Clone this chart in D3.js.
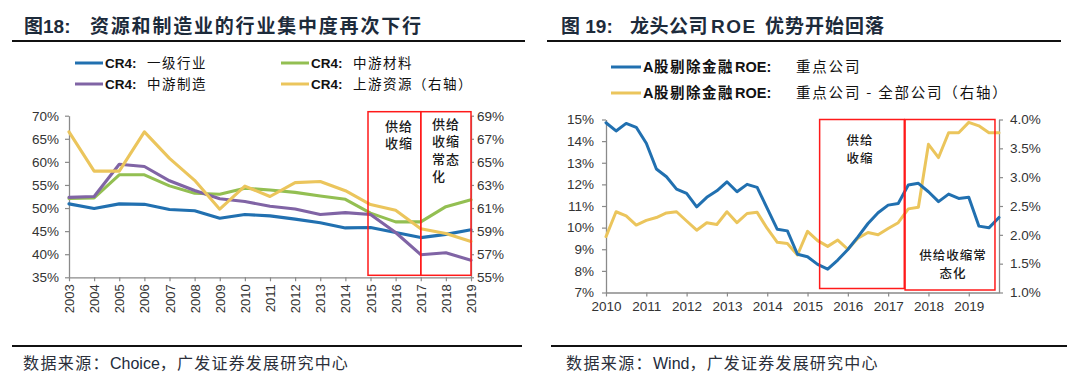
<!DOCTYPE html>
<html><head><meta charset="utf-8">
<script src="https://cdn.jsdelivr.net/npm/d3@7"></script>
<style>
body{margin:0;background:#fff}
svg{display:block}
text{font-family:"Liberation Sans",Arial,"Noto Sans CJK SC",sans-serif}
.cjk{font-family:"Noto Sans CJK SC","Liberation Sans",sans-serif}
</style>
</head><body>
<svg id="c" width="1080" height="383"></svg>
<script>
// ---------- Data: left chart (Figure 18) ----------
const years = [2003,2004,2005,2006,2007,2008,2009,2010,2011,2012,2013,2014,2015,2016,2017,2018,2019];
const cr4Primary       = [50.9,49.9,50.9,50.8,49.7,49.4,47.8,48.6,48.3,47.6,46.8,45.7,45.8,44.7,43.6,44.3,45.3];
const cr4Materials     = [52.1,52.2,57.2,57.2,54.8,53.2,53.0,54.3,53.9,53.4,52.6,51.9,48.9,47.0,47.0,50.3,51.8];
const cr4Manufacturing = [52.3,52.5,59.5,59.0,55.9,53.8,52.0,51.4,50.4,49.8,48.6,49.0,48.6,44.7,39.9,40.3,38.7];
const cr4Upstream      = [67.6,64.2,64.2,67.6,65.3,63.4,60.9,62.9,62.0,63.2,63.3,62.5,61.3,60.8,59.2,58.8,58.1];
const leftTicksL = [35,40,45,50,55,60,65,70];
const leftTicksR = [55,57,59,61,63,65,67,69];
const leftPeriods = [[2015,2017],[2017,2019]];
const leftLegend = [
  ["CR4:","一级行业"],["CR4:","中游材料"],["CR4:","中游制造"],["CR4:","上游资源（右轴）"]
];

// ---------- Data: right chart (Figure 19), quarterly 2010Q1..2019Q4 ----------
const quarters = d3.range(40).map(i => 2010 + i/4);
const roeTop  = [14.85,14.47,14.82,14.64,13.9,12.71,12.35,11.78,11.58,10.96,11.4,11.7,12.12,11.66,12.0,11.86,10.89,9.92,9.85,8.77,
                 8.65,8.30,8.08,8.50,8.99,9.57,10.19,10.69,11.04,11.12,11.97,12.05,11.66,11.2,11.55,11.35,11.4,10.07,9.99,10.47];
const roeDiff = [1.97,2.40,2.33,2.17,2.25,2.30,2.38,2.40,2.24,2.08,2.21,2.18,2.40,2.21,2.37,2.39,2.11,1.87,1.85,1.65,
                 2.06,1.90,1.80,1.91,1.75,1.94,2.04,2.00,2.11,2.21,2.45,2.48,3.57,3.34,3.77,3.77,3.95,3.89,3.77,3.77];
const rightYears = [2010,2011,2012,2013,2014,2015,2016,2017,2018,2019];
const rightTicksL = [7,8,9,10,11,12,13,14,15];
const rightTicksR = [1.0,1.5,2.0,2.5,3.0,3.5,4.0];
const rightPeriods = [[2015.3,2017.4],[2017.42,2019.65]];

const C = {blue:"#2170b0", green:"#93bf52", purple:"#8064a5", gold:"#ebc55c", red:"#ff1a1a", axis:"#8a8a8a", tick:"#333", title:"#1d2b3b"};

const svg = d3.select("#c");
svg.append("rect").attr("width",1080).attr("height",383).attr("fill","#fff");

function styleAxis(g){
  g.select(".domain").attr("stroke",C.axis).attr("stroke-width",1.3);
  g.selectAll(".tick line").attr("stroke",C.axis).attr("stroke-width",1.2);
  g.selectAll(".tick text").attr("fill",C.tick).attr("font-size","13.5px")
    .attr("font-family","'Liberation Sans',Arial,sans-serif");
}

// ---------- Titles, rules, footers ----------
function header(x0, x1, titleParts){
  const t = svg.append("text").attr("y",33).attr("fill",C.title).attr("font-weight","bold").attr("font-size","19px");
  titleParts.forEach(p=>{
    t.append("tspan").attr("x",p.x).attr("class",p.cjk?"cjk":null)
     .attr("letter-spacing",p.ls||0).text(p.t);
  });
  svg.append("line").attr("x1",x0).attr("x2",x1).attr("y1",41).attr("y2",41).attr("stroke","#111").attr("stroke-width",2);
}
header(12,525,[{x:24,t:"图18:"},{x:90,t:"资源和制造业的行业集中度再次下行",cjk:true,ls:"1.8px"}]);
header(547,1061,[{x:561,t:"图 19:"},{x:630,t:"龙头公司",cjk:true,ls:"0.5px"},{x:711,t:"ROE",ls:"1.5px"},{x:765,t:"优势开始回落",cjk:true,ls:"1px"}]);

function footer(x0,x1,tx,src){
  svg.append("line").attr("x1",x0).attr("x2",x1).attr("y1",346).attr("y2",346).attr("stroke","#111").attr("stroke-width",2);
  const t = svg.append("text").attr("x",tx).attr("y",369).attr("fill","#2b2f3a").attr("font-size","16px");
  t.append("tspan").attr("class","cjk").attr("letter-spacing","1.4px").text("数据来源：");
  t.append("tspan").attr("fill","#1d2b3b").text(src);
  t.append("tspan").attr("class","cjk").attr("letter-spacing","1.2px").text("，广发证券发展研究中心");
}
footer(12,522,23,"Choice");
footer(551,1067,566,"Wind");

// ---------- Left chart ----------
const xL = d3.scalePoint().domain(years).range([69,471]);
const yLL = d3.scaleLinear().domain([35,70]).range([277.3,115.7]);
const yLR = d3.scaleLinear().domain([55,69]).range([277.3,115.7]);

svg.append("g").attr("transform","translate(69,0)")
  .call(d3.axisLeft(yLL).tickValues(leftTicksL).tickSize(4).tickSizeOuter(0).tickPadding(6).tickFormat(d=>d+"%"))
  .call(styleAxis);
svg.append("g").attr("transform","translate(471,0)")
  .call(d3.axisRight(yLR).tickValues(leftTicksR).tickSize(3).tickSizeOuter(0).tickPadding(3).tickFormat(d=>d+"%"))
  .call(styleAxis);
const gxL = svg.append("g").attr("transform","translate(0,277.3)")
  .call(d3.axisBottom(xL).tickSize(4).tickSizeOuter(0))
  .call(styleAxis);
gxL.selectAll(".tick text").attr("transform","rotate(-90)").attr("text-anchor","end")
  .attr("x",-7).attr("y",0).attr("dy","0.35em").attr("font-size","13px");

function lineL(vals, scale, color){
  svg.append("path").datum(vals)
    .attr("d", d3.line().x((d,i)=>xL(years[i])).y(d=>scale(d)))
    .attr("fill","none").attr("stroke",color).attr("stroke-width",3.1)
    .attr("stroke-linejoin","round").attr("stroke-linecap","round");
}
lineL(cr4Primary, yLL, C.blue);
lineL(cr4Materials, yLL, C.green);
lineL(cr4Manufacturing, yLL, C.purple);
lineL(cr4Upstream, yLR, C.gold);

leftPeriods.forEach((p,i)=>{
  const x0 = xL(p[0]) - (i===0?2.5:0), x1 = xL(p[1]);
  svg.append("rect").attr("x",x0).attr("y",yLL(70)-4).attr("width",x1-x0).attr("height",yLL(35)-2-(yLL(70)-4))
    .attr("fill","none").attr("stroke",C.red).attr("stroke-width",1.5);
});
function multiText(lines, x, y0, lh, anchor, fs){
  lines.forEach((s,i)=>{
    svg.append("text").attr("class","cjk").attr("fill","#1a1a1a").attr("font-size",(fs||13)+"px")
      .attr("font-weight",500).attr("text-anchor",anchor).attr("letter-spacing","1px")
      .attr("x",x).attr("y",y0+i*lh).text(s);
  });
}
multiText(["供给","收缩"], 385, 131, 17.3, "start");
multiText(["供给","收缩","常态","化"], 432, 129, 17.3, "start");

// Left legend
const legPos = [[75,63],[281,63],[75,84],[281,84]];
const legCol = [C.blue,C.green,C.purple,C.gold];
leftLegend.forEach((l,i)=>{
  const [lx,ly] = legPos[i];
  svg.append("line").attr("x1",lx).attr("x2",lx+28).attr("y1",ly).attr("y2",ly).attr("stroke",legCol[i]).attr("stroke-width",3);
  const t = svg.append("text").attr("y",ly+5).attr("fill","#111").attr("font-size","13.5px");
  t.append("tspan").attr("x",lx+30).attr("font-weight","bold").text(l[0]);
  t.append("tspan").attr("x",lx+72).attr("class","cjk").attr("letter-spacing","1.5px").text(l[1]);
});

// ---------- Right chart ----------
const xR = d3.scaleLinear().domain([2010,2019.75]).range([606,999]);
const yRL = d3.scaleLinear().domain([7,15]).range([292.5,119.5]);
const yRR = d3.scaleLinear().domain([1,4]).range([292.5,119.5]);

svg.append("g").attr("transform","translate(606,0)")
  .call(d3.axisLeft(yRL).tickValues(rightTicksL).tickSize(4).tickSizeOuter(0).tickPadding(8).tickFormat(d=>d+"%"))
  .call(styleAxis);
svg.append("g").attr("transform","translate(999,0)")
  .call(d3.axisRight(yRR).tickValues(rightTicksR).tickSize(4).tickSizeOuter(0).tickPadding(7).tickFormat(d=>d3.format(".1f")(d)+"%"))
  .call(styleAxis);
svg.append("g").attr("transform","translate(0,292.5)")
  .call(d3.axisBottom(xR).tickValues(rightYears).tickSize(4).tickSizeOuter(0).tickPadding(5).tickFormat(d3.format("d")))
  .call(styleAxis);

function lineR(vals, scale, color){
  svg.append("path").datum(vals)
    .attr("d", d3.line().x((d,i)=>xR(quarters[i])).y(d=>scale(d)))
    .attr("fill","none").attr("stroke",color).attr("stroke-width",3)
    .attr("stroke-linejoin","round").attr("stroke-linecap","round");
}
lineR(roeDiff, yRR, C.gold);
lineR(roeTop, yRL, C.blue);

rightPeriods.forEach((p,i)=>{
  const x0 = xR(p[0]), x1 = xR(p[1]);
  const y0 = yRR(4), y1 = yRR(1) - (i===0?4:2.5);
  svg.append("rect").attr("x",x0).attr("y",y0).attr("width",x1-x0).attr("height",y1-y0)
    .attr("fill","none").attr("stroke",C.red).attr("stroke-width",1.5);
});
multiText(["供给","收缩"], 860, 145, 17.5, "middle", 12.5);
multiText(["供给收缩常","态化"], 953, 260, 17.5, "middle", 12.5);

// Right legend
const rLeg = [
  {y:67, c:C.blue, rest:"重点公司"},
  {y:93, c:C.gold, rest:"重点公司 - 全部公司（右轴）"}
];
rLeg.forEach(l=>{
  svg.append("line").attr("x1",611).attr("x2",641).attr("y1",l.y).attr("y2",l.y).attr("stroke",l.c).attr("stroke-width",3);
  const t = svg.append("text").attr("y",l.y+5).attr("fill","#111").attr("font-size","14.5px");
  t.append("tspan").attr("x",643).attr("font-weight","bold").text("A");
  t.append("tspan").attr("x",654).attr("class","cjk").attr("font-weight","bold").attr("letter-spacing","1.5px").text("股剔除金融");
  t.append("tspan").attr("x",735).attr("font-weight","bold").text("ROE:");
  t.append("tspan").attr("x",796).attr("class","cjk").attr("letter-spacing","1.8px").text(l.rest);
});
</script>
</body></html>
